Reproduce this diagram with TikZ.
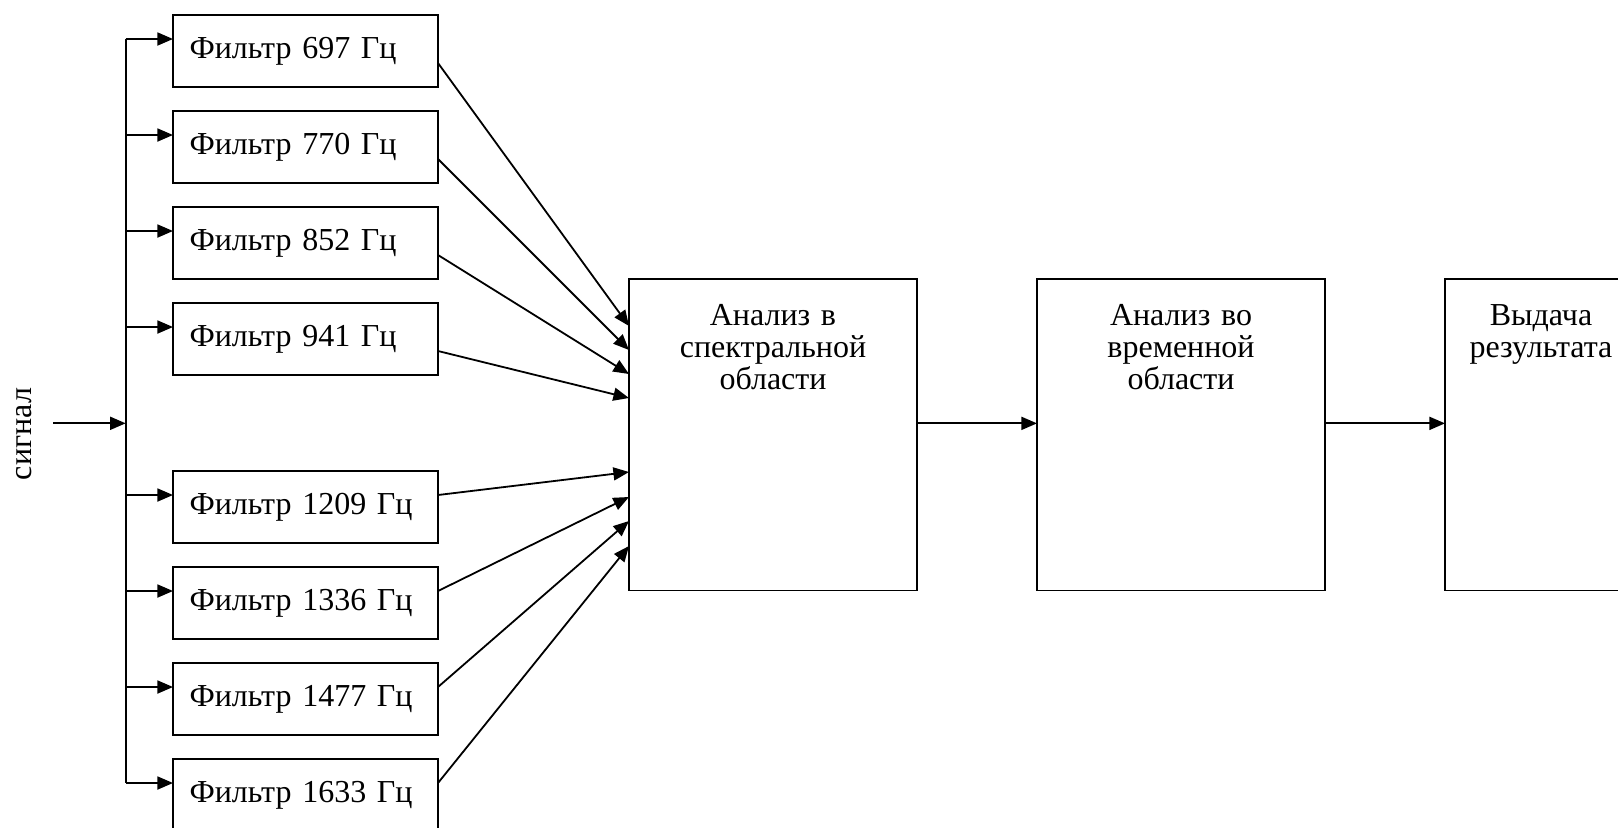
\documentclass[tikz,border=0pt]{standalone}
\usepackage{fontspec}
\setmainfont{Liberation Serif}
\usepackage{tikz}
\usetikzlibrary{arrows.meta, positioning, calc}

\begin{document}
\begin{tikzpicture}[
    node distance=12pt and 60pt,
    font=\fontsize{16pt}{15.9pt}\selectfont,
    filter/.style={rectangle, draw=black, line width=0.9pt, outer sep=0pt,
                   minimum height=36pt, text width=116pt, inner xsep=8.25pt,
                   align=left},
    block/.style={rectangle, draw=black, line width=0.9pt, outer sep=0pt,
                  inner sep=0pt, text width=144pt, align=center,
                  text height=23.35pt, text depth=132.4pt},
    arrow/.style={-{Triangle[length=7.8pt, width=6.5pt]}, line width=0.9pt},
    wire/.style={line width=0.9pt}
]

%% === FRAME (right block and last filter run past the edge) ===
\useasboundingbox (0,0) rectangle (809pt,-413.5pt);
\clip (0,0) rectangle (809pt,-413.5pt);

%% --- FILTER BANK (stacked vertically) ---
\node[filter] (f697) at (152.75pt,-25.5pt) {Фильтр 697 Гц};
\node[filter, below=of f697]  (f770)  {Фильтр 770 Гц};
\node[filter, below=of f770]  (f852)  {Фильтр 852 Гц};
\node[filter, below=of f852]  (f941)  {Фильтр 941 Гц};
\node[filter, below=48pt of f941] (f1209) {Фильтр 1209 Гц};
\node[filter, below=of f1209] (f1336) {Фильтр 1336 Гц};
\node[filter, below=of f1336] (f1477) {Фильтр 1477 Гц};
\node[filter, below=of f1477] (f1633) {Фильтр 1633 Гц};

%% --- ANALYSIS CHAIN ---
\node[block, anchor=north west] (spec) at (314.5pt,-139.5pt)
    {Анализ в\\спектральной\\области};
\node[block, right=of spec] (time)
    {Анализ во\\временной\\области};
\node[block, right=60pt of time, text width=96pt] (result)
    {Выдача\\результата};

%% --- INPUT ---
\coordinate (src)   at (26.5pt,-211.65pt);
\coordinate (split) at (62.85pt,-211.65pt);
\node[rotate=90] (signal) at (12pt,-217pt) {сигнал};

%% --- ARROWS: input to filters ---
\draw[arrow] (src) -- (split);
\draw[wire] ([yshift=6pt]f697.west -| split) -- ([yshift=6pt]f1633.west -| split);
\foreach \f in {f697,f770,f852,f941,f1209,f1336,f1477,f1633}
    \draw[arrow] ([yshift=6pt]\f.west -| split) -- ([yshift=6pt]\f.west);

%% --- ARROWS: filters to spectral analysis ---
\foreach \f/\s/\e in {f697/-6/23.5, f770/-6/35.5, f852/-6/47.5, f941/-6/59.5,
                      f1209/6/96.5, f1336/6/109, f1477/6/121, f1633/6/133.5}
    \draw[arrow] ([yshift=\s pt]\f.east) -- ([yshift=-\e pt]spec.north west);

%% --- ARROWS: main chain ---
\draw[arrow] ([yshift=5.7pt]spec.east) -- ([yshift=5.7pt]time.west);
\draw[arrow] ([yshift=5.7pt]time.east) -- ([yshift=5.7pt]result.west);

\end{tikzpicture}
\end{document}
